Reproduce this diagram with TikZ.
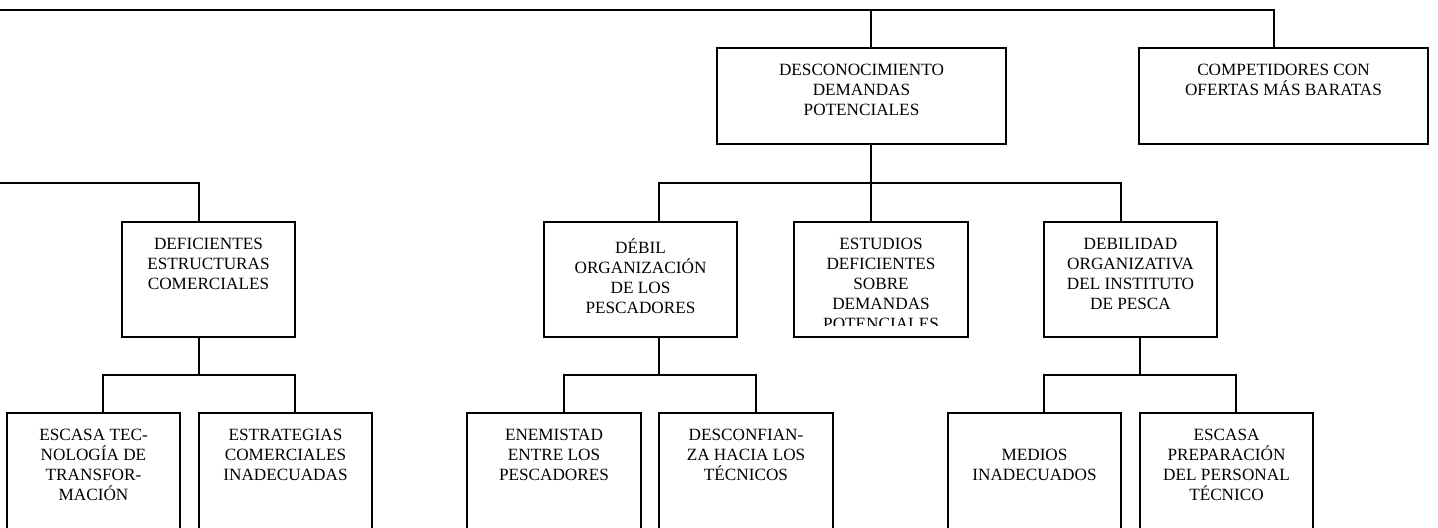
\documentclass[tikz,border=0pt]{standalone}
\usepackage{fontspec}
\setmainfont{Liberation Serif}
\usetikzlibrary{positioning}

\begin{document}
\begin{tikzpicture}[x=0.5pt, y=-0.5pt]
% Define the node styles
\tikzstyle{cell} = [draw, line width=0.9pt, inner sep=0pt]
\tikzstyle{wide} = [cell, minimum width=144.5pt, minimum height=48pt]
\tikzstyle{cause} = [cell, minimum width=86.5pt, minimum height=57.5pt]
\tikzstyle{leaf} = [cell, minimum width=86.5pt, minimum height=66pt]
\tikzstyle{txt} = [inner sep=0pt, align=center, font=\fontsize{8.6}{10}\selectfont, execute at begin node={\rule{0pt}{8pt}}]
\tikzstyle{link} = [line width=0.9pt]

\clip (0,0) rectangle (1438,528);

% Define the boxes
\node[wide] (desc) at (861.5,96) {};
\node[wide] (comp) at (1283.5,96) {};
\node[cause] (defic) at (208.5,279.5) {};
\node[cause, minimum width=96.5pt] (debil) at (640.5,279.5) {};
\node[cause, minimum width=87pt] (estud) at (881,279.5) {};
\node[cause] (debilid) at (1130.5,279.5) {};
\node[leaf] (tecno) at (93.5,479) {};
\node[leaf] (estrat) at (285.5,479) {};
\node[leaf, minimum width=87pt] (enem) at (554,479) {};
\node[leaf, minimum width=87pt] (descon) at (746,479) {};
\node[leaf] (medios) at (1034.5,479) {};
\node[leaf] (prepar) at (1226.5,479) {};

% Define the texts
\node[txt, below=8.5pt of desc.north] (desc-t) {DESCONOCIMIENTO\\DEMANDAS\\POTENCIALES};
\node[txt, below=8.5pt of comp.north] (comp-t) {COMPETIDORES CON\\OFERTAS MÁS BARATAS};
\node[txt, below=8.5pt of defic.north] (defic-t) {DEFICIENTES\\ESTRUCTURAS\\COMERCIALES};
\node[txt, below=8.5pt of debil.north] (debil-t) {DÉBIL\\ORGANIZACIÓN\\DE LOS\\PESCADORES};
\begin{scope}
\clip (estud.north west) rectangle ([yshift=6pt]estud.south east);
\node[txt, below=8.5pt of estud.north] (estud-t) {ESTUDIOS\\DEFICIENTES\\SOBRE\\DEMANDAS\\POTENCIALES};
\end{scope}
\node[txt, below=8.5pt of debilid.north] (debilid-t) {DEBILIDAD\\ORGANIZATIVA\\DEL INSTITUTO\\DE PESCA};
\node[txt, below=8.5pt of tecno.north] (tecno-t) {ESCASA TEC-\\NOLOGÍA DE\\TRANSFOR-\\MACIÓN};
\node[txt, below=8.5pt of estrat.north] (estrat-t) {ESTRATEGIAS\\COMERCIALES\\INADECUADAS};
\node[txt, below=8.5pt of enem.north] (enem-t) {ENEMISTAD\\ENTRE LOS\\PESCADORES};
\node[txt, below=8.5pt of descon.north] (descon-t) {DESCONFIAN-\\ZA HACIA LOS\\TÉCNICOS};
\node[txt, below=18.5pt of medios.north] (medios-t) {MEDIOS\\INADECUADOS};
\node[txt, below=8.5pt of prepar.north] (prepar-t) {ESCASA\\PREPARACIÓN\\DEL PERSONAL\\TÉCNICO};

% Define the bus lines
\coordinate (bus0) at (0,10);
\coordinate (bus1) at (0,183);
\coordinate (bus2) at (0,375);

% Define the connections
\draw[link] (bus0) -| ([xshift=-4.75pt]comp.north);
\draw[link] ([xshift=4.75pt]desc.north) -- ([xshift=4.75pt]desc.north |- bus0);
\draw[link] (bus1) -| ([xshift=-4.75pt]defic.north);
\draw[link] ([xshift=4.75pt]desc.south) -- ([xshift=4.75pt]desc.south |- bus1);
\draw[link] ([xshift=9.25pt]debil.north) |- ([xshift=-4.75pt]debilid.north |- bus1) -- ([xshift=-4.75pt]debilid.north);
\draw[link] ([xshift=-5pt]estud.north) -- ([xshift=-5pt]estud.north |- bus1);

\draw[link] ([xshift=-4.75pt]defic.south) -- ([xshift=-4.75pt]defic.south |- bus2);
\draw[link] ([xshift=4.75pt]tecno.north) |- ([xshift=4.75pt]estrat.north |- bus2) -- ([xshift=4.75pt]estrat.north);
\draw[link] ([xshift=9.25pt]debil.south) -- ([xshift=9.25pt]debil.south |- bus2);
\draw[link] ([xshift=5pt]enem.north) |- ([xshift=5pt]descon.north |- bus2) -- ([xshift=5pt]descon.north);
\draw[link] ([xshift=4.75pt]debilid.south) -- ([xshift=4.75pt]debilid.south |- bus2);
\draw[link] ([xshift=4.75pt]medios.north) |- ([xshift=4.75pt]prepar.north |- bus2) -- ([xshift=4.75pt]prepar.north);

\end{tikzpicture}
\end{document}
